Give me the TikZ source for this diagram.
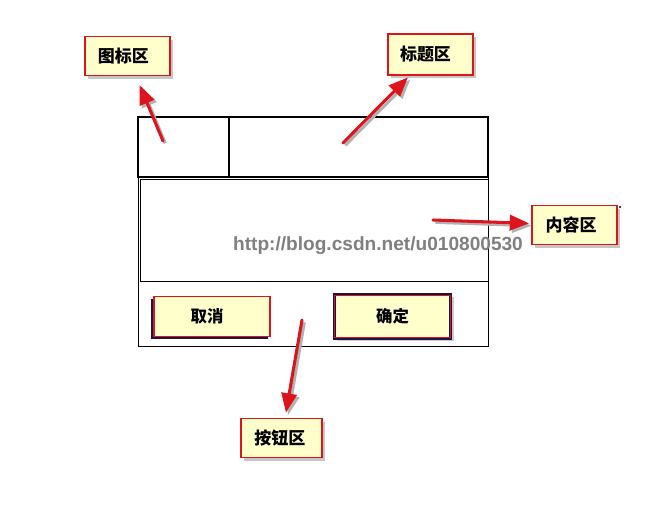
\documentclass[tikz,border=0pt]{standalone}
\usepackage{fontspec}
\setsansfont{Liberation Sans}
\newfontfamily\cjk{Noto Sans CJK SC}
\usetikzlibrary{arrows.meta,shadows}
\definecolor{noteyellow}{RGB}{255,255,204}
\definecolor{notered}{RGB}{222,20,28}
\definecolor{btnnavy}{RGB}{24,22,72}
\definecolor{markgray}{RGB}{128,128,128}
\tikzset{
    callout/.style={draw=notered, line width=1.6pt, fill=noteyellow,
        minimum width=2.55cm, minimum height=1.17cm, inner sep=0pt,
        font=\cjk\bfseries\fontsize{14.5}{16}\selectfont,
        drop shadow={shadow xshift=0.1cm, shadow yshift=-0.1cm, opacity=0.45}},
    cancelbtn/.style={draw=notered, line width=1.5pt, fill=noteyellow,
        minimum width=3.5cm, minimum height=1.2cm, inner sep=0pt,
        font=\cjk\bfseries\fontsize{14}{16}\selectfont,
        drop shadow={shadow xshift=-0.08cm, shadow yshift=-0.09cm, fill=btnnavy, opacity=1}},
    okbtn/.style={draw=btnnavy, line width=2.6pt, fill=noteyellow,
        minimum width=3.5cm, minimum height=1.3cm, inner sep=0pt,
        font=\cjk\bfseries\fontsize{14}{16}\selectfont,
        drop shadow={shadow xshift=0.08cm, shadow yshift=-0.08cm, opacity=0.4}},
    pointer/.style={draw=notered, line width=2.6pt, line cap=round,
        -{Triangle[length=0.58cm,width=0.46cm]},
        preaction={draw=black!30, line width=2.6pt,
            transform canvas={shift={(0.07cm,-0.07cm)}}}}
}
\begin{document}
\begin{tikzpicture}[x=0.03cm, y=-0.03cm]
    \useasboundingbox (0,0) rectangle (662,512);
    % dialog frame
    \draw[line width=0.6pt] (138,117) rectangle (488,346);
    \draw[line width=0.6pt, fill=white] (140,179) rectangle (488,281);
    \draw[line width=1.2pt] (138,117) rectangle (488,177);
    \draw[line width=1.4pt] (138,117) rectangle (229,177);
    \fill (620,207) circle (1pt);
    % buttons
    \node[cancelbtn] (cancel) at (212,316.5) {取消\hspace*{0.3cm}};
    \node[okbtn] (ok) at (392.5,316.5) {确定};
    \draw[notered, line width=0.8pt] ([shift={(0.06cm,-0.06cm)}]ok.north west) rectangle ([shift={(-0.06cm,0.06cm)}]ok.south east);
    % watermark
    \node[text=markgray, font=\sffamily\bfseries\fontsize{16.3}{18}\selectfont] (mark) at (378,246) {http://blog.csdn.net/u010800530};
    % callouts
    \node[callout] (iconnote) at (127.5,56) {图标区\hspace*{0.25cm}};
    \node[callout, minimum height=1.23cm] (titlenote) at (430.5,54.5) {标题区\hspace*{0.3cm}};
    \node[callout] (bodynote) at (574.5,225) {内容区\hspace*{0.2cm}};
    \node[callout, minimum width=2.43cm] (btnnote) at (281.5,438) {按钮区\hspace*{0.1cm}};
    % pointers
    \coordinate (icontail) at (163,141);
    \coordinate (titletail) at (343,143);
    \coordinate (bodytail) at (433,220);
    \coordinate (btntail) at (302,320);
    \draw[pointer, shorten >=0.28cm] (icontail) -- (iconnote);
    \draw[pointer, shorten >=0.06cm] (titletail) -- (titlenote);
    \draw[pointer, shorten >=0.06cm] (bodytail) -- (bodynote);
    \draw[pointer, shorten >=0.15cm] (btntail) -- (btnnote);
\end{tikzpicture}
\end{document}
